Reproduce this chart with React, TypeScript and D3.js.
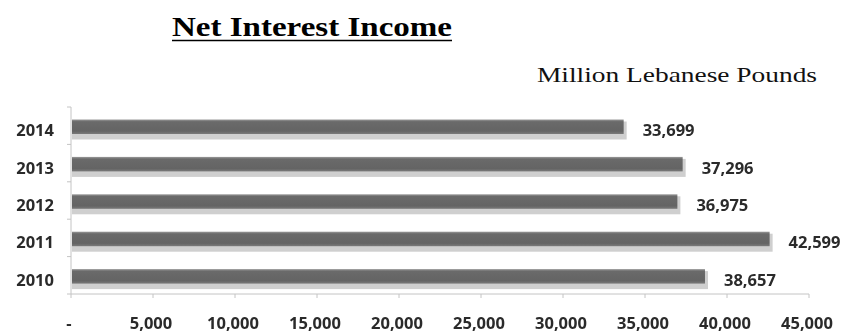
import React from "react";
import * as d3 from "d3";

const years = ["2014", "2013", "2012", "2011", "2010"];
const values = [33699, 37296, 36975, 42599, 38657];
const tickValues = [0, 5000, 10000, 15000, 20000, 25000, 30000, 35000, 40000, 45000];
const titleText = "Net Interest Income";
const unitText = "Million Lebanese Pounds";

const W = 846;
const H = 333;

export default function App() {
  const x = d3.scaleLinear().domain([0, 45000]).range([71, 809]);
  const y = d3.scaleBand<string>().domain(years).range([107, 294]).paddingInner(0).paddingOuter(0);
  const bw = y.bandwidth();
  const fmt = d3.format(",");
  const tickLabel = (v: number) => (v === 0 ? "-" : fmt(v));
  const sans = "'Open Sans', 'DejaVu Sans', sans-serif";
  const serif = "'Liberation Serif', 'DejaVu Serif', serif";
  const axisColor = "#c4c4c4";
  const labelColor = "#2b2b2b";
  const fs = 16.5;

  return (
    <svg width={W} height={H} style={{ position: "absolute", left: 0, top: 0, display: "block", background: "#fff" }}>
      <defs>
        <linearGradient id="barGrad" x1="0" y1="0" x2="0" y2="1">
          <stop offset="0" stopColor="#9a9a9a" />
          <stop offset="0.15" stopColor="#6a6a6a" />
          <stop offset="0.8" stopColor="#646464" />
          <stop offset="1" stopColor="#7a7a7a" />
        </linearGradient>
        <filter id="soft" x="-5%" y="-50%" width="110%" height="200%">
          <feGaussianBlur stdDeviation="0.6" />
        </filter>
        <filter id="txt" x="-5%" y="-20%" width="110%" height="140%">
          <feGaussianBlur stdDeviation="0.25" />
        </filter>
      </defs>

      {/* Title */}
      <text x={312} y={36} textAnchor="middle" fontFamily={serif} fontWeight="bold" fontSize={28}
        textLength={280} lengthAdjust="spacingAndGlyphs" fill="#000">{titleText}</text>
      <line x1={172} x2={452} y1={40.5} y2={40.5} stroke="#000" strokeWidth={1.6} />

      <text x={817} y={82} textAnchor="end" fontFamily={serif} fontSize={21}
        textLength={280} lengthAdjust="spacingAndGlyphs" fill="#111">{unitText}</text>

      {/* Axes */}
      <line x1={x(0)} x2={x(0)} y1={107} y2={294} stroke={axisColor} strokeWidth={1} />
      {years.map((yr) => (
        <line key={"yt" + yr} x1={x(0) - 4} x2={x(0)} y1={(y(yr) as number)} y2={(y(yr) as number)} stroke={axisColor} />
      ))}
      <line x1={x(0) - 4} x2={x(0)} y1={294} y2={294} stroke={axisColor} />
      <line x1={x(0)} x2={x(45000)} y1={294} y2={294} stroke={axisColor} strokeWidth={1} />
      {tickValues.map((v) => (
        <line key={"xt" + v} x1={x(v)} x2={x(v)} y1={294} y2={298} stroke={axisColor} />
      ))}

      {/* Bars */}
      {years.map((yr, i) => {
        const top = (y(yr) as number) + 12.5;
        const x0 = x(0) + 1;
        const w = x(values[i]) - x0;
        return (
          <g key={"b" + yr}>
            <rect x={x0} y={top + 2} width={w + 3} height={18} fill="#cfcfcf" filter="url(#soft)" />
            <rect x={x0} y={top} width={w} height={14.5} fill="url(#barGrad)" />
          </g>
        );
      })}

      <g filter="url(#txt)">
        {/* Y labels */}
        {years.map((yr) => (
          <text key={"yl" + yr} x={54} y={(y(yr) as number) + bw / 2 + 4} textAnchor="end" dominantBaseline="central"
            fontFamily={sans} fontWeight="bold" fontSize={fs} fill={labelColor}>{yr}</text>
        ))}

        {/* Value labels */}
        {years.map((yr, i) => (
          <text key={"vl" + yr} x={x(values[i]) + 19} y={(y(yr) as number) + bw / 2 + 4} textAnchor="start" dominantBaseline="central"
            fontFamily={sans} fontWeight="bold" fontSize={fs} fill={labelColor}>{fmt(values[i])}</text>
        ))}

        {/* X tick labels */}
        {tickValues.map((v) => (
          <text key={"xl" + v} x={x(v) - 2} y={322} textAnchor="middle" dominantBaseline="central"
            fontFamily={sans} fontWeight="bold" fontSize={fs} fill={labelColor}>{tickLabel(v)}</text>
        ))}
      </g>
    </svg>
  );
}
